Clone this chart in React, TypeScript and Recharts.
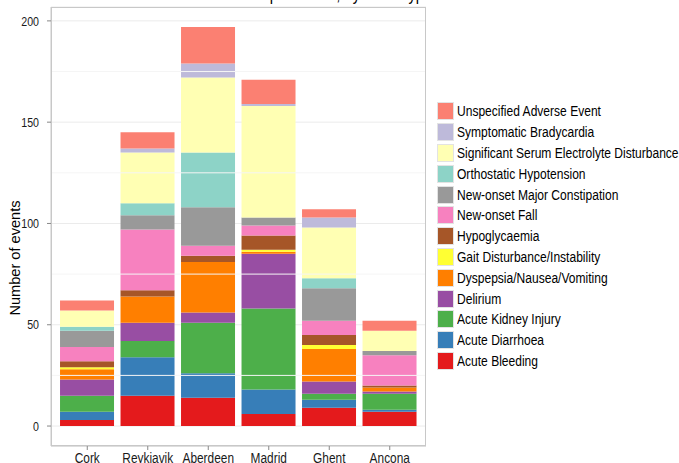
import React from "react";
import {
  BarChart,
  Bar,
  XAxis,
  YAxis,
  CartesianGrid,
  Legend,
  ReferenceLine,
} from "recharts";

const centres = ["Cork", "Reykjavik", "Aberdeen", "Madrid", "Ghent", "Ancona"];

// event counts per centre, same order as centres
const acuteBleeding = [3, 15, 14, 6, 9, 7];
const acuteDiarrhoea = [4, 19, 12, 12, 4, 1];
const acuteKidneyInjury = [8, 8, 25, 40, 3, 8];
const delirium = [8, 9, 5, 27, 6, 1];
const dyspepsia = [5, 13, 25, 1, 16, 2];
const gaitDisturbance = [1, 0, 0, 1, 2, 0];
const hypoglycaemia = [3, 3, 3, 7, 5, 1];
const newOnsetFall = [7, 30, 5, 5, 7, 15];
const constipation = [8, 7, 19, 4, 16, 2];
const orthostatic = [2, 6, 27, 0, 5, 0];
const electrolyte = [8, 25, 37, 55, 25, 10];
const bradycardia = [0, 2, 7, 1, 5, 0];
const unspecified = [5, 8, 18, 12, 4, 5];

const yTicks = [0, 50, 100, 150, 200];
const minorTicks = [25, 75, 125, 175];

const series = [
  { name: "Acute Bleeding", values: acuteBleeding, color: "#E41A1C" },
  { name: "Acute Diarrhoea", values: acuteDiarrhoea, color: "#377EB8" },
  { name: "Acute Kidney Injury", values: acuteKidneyInjury, color: "#4DAF4A" },
  { name: "Delirium", values: delirium, color: "#984EA3" },
  { name: "Dyspepsia/Nausea/Vomiting", values: dyspepsia, color: "#FF7F00" },
  { name: "Gait Disturbance/Instability", values: gaitDisturbance, color: "#FFFF33" },
  { name: "Hypoglycaemia", values: hypoglycaemia, color: "#A65628" },
  { name: "New-onset Fall", values: newOnsetFall, color: "#F781BF" },
  { name: "New-onset Major Constipation", values: constipation, color: "#999999" },
  { name: "Orthostatic Hypotension", values: orthostatic, color: "#8DD3C7" },
  { name: "Significant Serum Electrolyte Disturbance", values: electrolyte, color: "#FFFFB3" },
  { name: "Symptomatic Bradycardia", values: bradycardia, color: "#BEBADA" },
  { name: "Unspecified Adverse Event", values: unspecified, color: "#FB8072" },
];

const data = centres.map((centre, i) => {
  const row: Record<string, string | number> = { centre };
  series.forEach((s) => {
    row[s.name] = s.values[i];
  });
  return row;
});

const SANS = "'Liberation Sans', Arial, sans-serif";
// the source picture is squeezed sideways, so horizontal text gets narrowed
const SQUEEZE = 0.82;

function LegendBox() {
  return (
    <div style={{ fontFamily: SANS, fontSize: 14.7, color: "#000" }}>
      {[...series].reverse().map((s) => (
        <div
          key={s.name}
          style={{ display: "flex", alignItems: "center", height: 20.8, whiteSpace: "nowrap" }}
        >
          <span
            style={{
              display: "inline-block",
              flexShrink: 0,
              width: 17,
              height: 18,
              background: s.color,
              border: "1px solid #e3e3e3",
              boxSizing: "border-box",
              marginRight: 3,
            }}
          />
          <span
            style={{
              display: "inline-block",
              transform: `scaleX(${SQUEEZE})`,
              transformOrigin: "left center",
            }}
          >
            {s.name}
          </span>
        </div>
      ))}
    </div>
  );
}

function XTick(props: any) {
  const { x, y, payload } = props;
  return (
    <g transform={`translate(${x},${y})`}>
      <text
        transform={`scale(${SQUEEZE},1)`}
        textAnchor="middle"
        dy="0.71em"
        fontFamily={SANS}
        fontSize={14.5}
        fill="#1a1a1a"
      >
        {payload.value}
      </text>
    </g>
  );
}

function YTick(props: any) {
  const { x, y, payload } = props;
  return (
    <g transform={`translate(${x},${y})`}>
      <text
        transform={`scale(${SQUEEZE},1)`}
        textAnchor="end"
        dy="0.355em"
        fontFamily={SANS}
        fontSize={13}
        fill="#1a1a1a"
      >
        {payload.value}
      </text>
    </g>
  );
}

function YTitle() {
  return (
    <text
      x={20}
      y={258}
      transform="rotate(-90 20 258)"
      textAnchor="middle"
      fontFamily={SANS}
      fontSize={14.6}
      fill="#000"
    >
      Number of events
    </text>
  );
}

export default function App() {
  return (
    <div style={{ position: "absolute", left: 0, top: 0, width: 679, height: 463, background: "#fff", overflow: "hidden" }}>
      <div
        style={{
          position: "absolute",
          right: 247,
          top: -15,
          fontFamily: SANS,
          fontSize: 18,
          lineHeight: "18px",
          whiteSpace: "nowrap",
          color: "#000",
          transform: `scaleX(${SQUEEZE})`,
          transformOrigin: "right center",
        }}
      >
        Number of adverse events per centre, by event type
      </div>
      <BarChart
        width={679}
        height={463}
        data={data}
        margin={{ top: 7, right: 253, bottom: 0, left: 0 }}
        barCategoryGap="5%"
      >
        <CartesianGrid horizontal vertical={false} stroke="#ebebeb" />
        {minorTicks.map((t) => (
          <ReferenceLine key={t} y={t} stroke="#f5f5f5" />
        ))}
        <XAxis
          dataKey="centre"
          padding={{ left: 6, right: 6 }}
          height={17}
          tickSize={4}
          tickMargin={3}
          axisLine={{ stroke: "#c8c8c8" }}
          tickLine={{ stroke: "#888" }}
          tick={<XTick />}
          interval={0}
        />
        <YAxis
          width={51}
          domain={[-9.85, 206.85]}
          ticks={yTicks}
          allowDataOverflow
          tickSize={4}
          tickMargin={8}
          axisLine={{ stroke: "#c8c8c8" }}
          tickLine={{ stroke: "#888" }}
          tick={<YTick />}
          label={{ content: () => <YTitle /> }}
        />
        <Legend
          layout="vertical"
          align="center"
          verticalAlign="middle"
          content={() => <LegendBox />}
          wrapperStyle={{ left: 437, top: 101, width: 242 }}
        />
        {series.map((s) => (
          <Bar
            key={s.name}
            dataKey={s.name}
            stackId="a"
            fill={s.color}
            isAnimationActive={false}
          />
        ))}
      </BarChart>
      <div
        style={{
          position: "absolute",
          left: 51,
          top: 7,
          width: 375,
          height: 439,
          border: "1px solid #c8c8c8",
          boxSizing: "border-box",
          pointerEvents: "none",
        }}
      />
    </div>
  );
}
